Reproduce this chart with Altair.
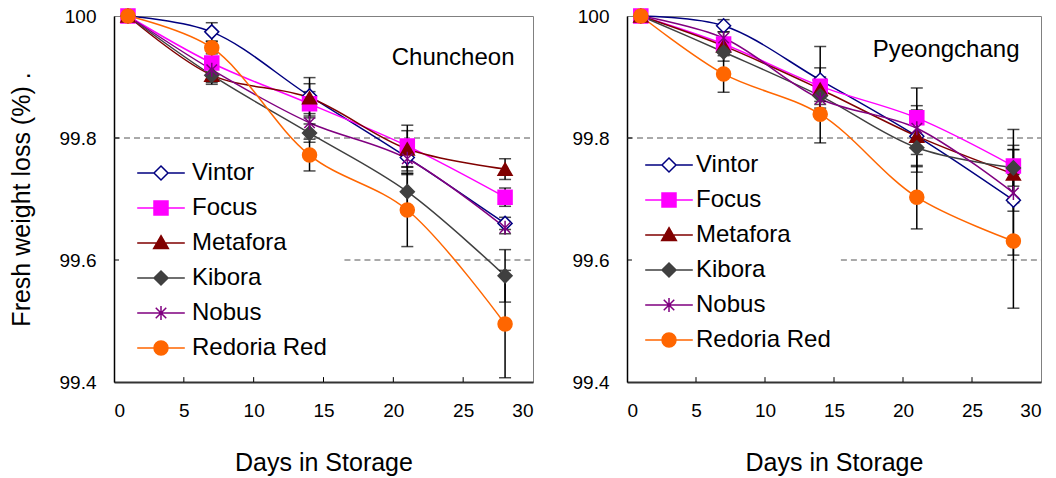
import altair as alt
import pandas as pd

FONT = "Liberation Sans"

days = [1, 7, 14, 21, 28]
varieties = ["Vintor", "Focus", "Metafora", "Kibora", "Nobus", "Redoria Red"]
line_colors = ["#000080", "#FF00FF", "#800000", "#404040", "#800080", "#FF6600"]
fill_colors = ["#FFFFFF", "#FF00FF", "#800000", "#404040", "#800080", "#FF6600"]
ASTERISK = "M0,-1L0,1M-0.75,-0.75L0.75,0.75M-0.75,0.75L0.75,-0.75"
shapes = ["diamond", "square", "triangle-up", "diamond", ASTERISK, "circle"]
# legend symbols: short line with the marker in its middle
SEG = "M-3.4,0L-1,0M1,0L3.4,0"
legend_shapes = [
    SEG + "M0,-1L1,0L0,1L-1,0Z",
    SEG + "M-1,-1L1,-1L1,1L-1,1Z",
    "M-3.4,0L-0.55,0M0.55,0L3.4,0M0,-1.05L1.05,0.8L-1.05,0.8Z",
    SEG + "M0,-1L1,0L0,1L-1,0Z",
    "M-3.4,0L3.4,0" + ASTERISK,
    SEG + "M1,0A1,1 0 1,1 -1,0A1,1 0 1,1 1,0Z",
]

# Chuncheon: mean and error
chun_vintor = [100, 99.974, 99.869, 99.768, 99.660]
chun_focus = [100, 99.923, 99.856, 99.787, 99.703]
chun_metafora = [100, 99.903, 99.866, 99.782, 99.749]
chun_kibora = [100, 99.903, 99.808, 99.712, 99.574]
chun_nobus = [100, 99.912, 99.825, 99.766, 99.653]
chun_redoria = [100, 99.948, 99.772, 99.682, 99.495]
chun_vintor_err = [0, 0.015, 0.020, 0.028, 0.010]
chun_focus_err = [0, 0.020, 0.020, 0.034, 0.015]
chun_metafora_err = [0, 0.015, 0.033, 0.030, 0.017]
chun_kibora_err = [0, 0.012, 0.015, 0.030, 0.043]
chun_nobus_err = [0, 0.010, 0.015, 0.020, 0.010]
chun_redoria_err = [0, 0.010, 0.026, 0.060, 0.088]

# Pyeongchang: mean and error
pyeong_vintor = [100, 99.984, 99.895, 99.803, 99.698]
pyeong_focus = [100, 99.954, 99.885, 99.833, 99.754]
pyeong_metafora = [100, 99.951, 99.880, 99.803, 99.741]
pyeong_kibora = [100, 99.941, 99.869, 99.784, 99.751]
pyeong_nobus = [100, 99.964, 99.864, 99.816, 99.710]
pyeong_redoria = [100, 99.905, 99.839, 99.703, 99.631]
pyeong_vintor_err = [0, 0.010, 0.055, 0.050, 0.090]
pyeong_focus_err = [0, 0.010, 0.030, 0.049, 0.060]
pyeong_metafora_err = [0, 0.010, 0.020, 0.030, 0.040]
pyeong_kibora_err = [0, 0.015, 0.020, 0.040, 0.030]
pyeong_nobus_err = [0, 0.010, 0.020, 0.030, 0.030]
pyeong_redoria_err = [0, 0.030, 0.047, 0.052, 0.110]

x_ticks = [0, 5, 10, 15, 20, 25, 30]
y_ticks = [99.4, 99.6, 99.8, 100]
ref_levels = [99.8, 99.6]
chun_ref_start = [0, 16.5]
pyeong_ref_start = [0, 15.5]


def long_frame(means, errs):
    rows = []
    for v, m, e in zip(varieties, means, errs):
        for d, mv, ev in zip(days, m, e):
            rows.append({"variety": v, "variety2": v, "day": d, "value": mv,
                         "err": ev, "lo": mv - ev, "hi": mv + ev})
    return pd.DataFrame(rows)


chun_df = long_frame(
    [chun_vintor, chun_focus, chun_metafora, chun_kibora, chun_nobus, chun_redoria],
    [chun_vintor_err, chun_focus_err, chun_metafora_err, chun_kibora_err,
     chun_nobus_err, chun_redoria_err])
pyeong_df = long_frame(
    [pyeong_vintor, pyeong_focus, pyeong_metafora, pyeong_kibora, pyeong_nobus, pyeong_redoria],
    [pyeong_vintor_err, pyeong_focus_err, pyeong_metafora_err, pyeong_kibora_err,
     pyeong_nobus_err, pyeong_redoria_err])

x_scale = alt.Scale(domain=[0, 30], nice=False)
y_scale = alt.Scale(domain=[99.4, 100], nice=False, zero=False)


def make_panel(df, title, dx, title_offset, ref_start, lx, ly, loff, width, show_ytitle):
    x_axis = alt.Axis(values=x_ticks, ticks=False, tickSize=0, grid=False,
                      labelPadding=19, labelFontSize=19, labelFont=FONT, labelColor="black",
                      title="Days in Storage", titleFontSize=25, titleFont=FONT,
                      titleFontWeight="normal", titleColor="black", titlePadding=30,
                      domainColor="#333333", domainWidth=2)
    y_axis = alt.Axis(values=y_ticks, format="~g", ticks=False, tickSize=0, grid=False,
                      labelPadding=18, labelFontSize=19, labelFont=FONT, labelColor="black",
                      title="Fresh weight loss (%)   ." if show_ytitle else None,
                      titleFontSize=25, titleFont=FONT, titleFontWeight="normal",
                      titleColor="black", titlePadding=25,
                      domainColor="black", domainWidth=1.5)
    x = alt.X("day:Q", scale=x_scale, axis=x_axis)
    y = alt.Y("value:Q", scale=y_scale, axis=y_axis)

    ref_df = pd.DataFrame({"level": ref_levels, "start": ref_start, "end": [30, 30]})
    refs = alt.Chart(ref_df).mark_rule(color="#555555", strokeWidth=1, strokeDash=[6, 4]).encode(
        x=alt.X("start:Q", scale=x_scale), x2="end:Q", y=alt.Y("level:Q", scale=y_scale))

    xt_df = pd.DataFrame({"t": x_ticks[1:-1], "y0": [99.4] * 5, "y1": [99.408] * 5})
    xticks = alt.Chart(xt_df).mark_rule(color="black", strokeWidth=1).encode(
        x=alt.X("t:Q", scale=x_scale), y=alt.Y("y0:Q", scale=y_scale), y2="y1:Q")
    yt_df = pd.DataFrame({"t": y_ticks[1:-1], "x0": [0, 0], "x1": [0.36, 0.36]})
    yticks = alt.Chart(yt_df).mark_rule(color="black", strokeWidth=1).encode(
        y=alt.Y("t:Q", scale=y_scale), x=alt.X("x0:Q", scale=x_scale), x2="x1:Q")

    legend = alt.Legend(orient="none", legendX=lx, legendY=ly, title=None,
                        symbolSize=196, symbolStrokeWidth=1.5, symbolOpacity=1,
                        labelFontSize=24, labelFont=FONT, labelColor="black",
                        labelOffset=loff, labelLimit=400, rowPadding=11, padding=0)

    base = alt.Chart(df)
    lines = base.mark_line(interpolate="catmull-rom", strokeWidth=1.5).encode(
        x=x, y=y,
        color=alt.Color("variety2:N", scale=alt.Scale(domain=varieties, range=line_colors),
                        legend=None))
    eb = base.transform_filter("datum.err > 0")
    bars = eb.mark_rule(color="black", strokeWidth=1.5).encode(
        x=alt.X("day:Q", scale=x_scale), y=alt.Y("lo:Q", scale=y_scale), y2="hi:Q")
    caps_lo = eb.mark_tick(color="black", orient="horizontal", size=12, thickness=1.5).encode(
        x=alt.X("day:Q", scale=x_scale), y=alt.Y("lo:Q", scale=y_scale))
    caps_hi = eb.mark_tick(color="black", orient="horizontal", size=12, thickness=1.5).encode(
        x=alt.X("day:Q", scale=x_scale), y=alt.Y("hi:Q", scale=y_scale))
    points = base.mark_point(size=196, strokeWidth=1.5, opacity=1, fillOpacity=1).encode(
        x=alt.X("day:Q", scale=x_scale), y=alt.Y("value:Q", scale=y_scale),
        shape=alt.Shape("variety2:N", scale=alt.Scale(domain=varieties, range=shapes),
                        legend=None),
        stroke=alt.Stroke("variety2:N", scale=alt.Scale(domain=varieties, range=line_colors),
                          legend=None),
        fill=alt.Fill("variety2:N", scale=alt.Scale(domain=varieties, range=fill_colors),
                      legend=None))
    # zero-size layer whose only visible part is the legend (line + marker symbols)
    key = base.mark_point(size=0, strokeWidth=1.5, opacity=1, fillOpacity=1).encode(
        x=alt.X("day:Q", scale=x_scale), y=alt.Y("value:Q", scale=y_scale),
        shape=alt.Shape("variety:N", scale=alt.Scale(domain=varieties, range=legend_shapes),
                        legend=legend),
        stroke=alt.Stroke("variety:N", scale=alt.Scale(domain=varieties, range=line_colors),
                          legend=legend),
        fill=alt.Fill("variety:N", scale=alt.Scale(domain=varieties, range=fill_colors),
                      legend=legend))

    return alt.layer(refs, xticks, yticks, lines, bars, caps_lo, caps_hi, points, key).resolve_scale(
        shape="independent", stroke="independent", fill="independent", color="independent"
    ).properties(
        width=width, height=366,
        title=alt.TitleParams(text=title, anchor="end", orient="top", offset=title_offset,
                              dx=dx, fontSize=24, font=FONT, fontWeight="normal",
                              color="black"))


left = make_panel(chun_df, "Chuncheon", -19, -64, chun_ref_start, 35, 145, 19, 419, True)
right = make_panel(pyeong_df, "Pyeongchang", -22, -56, pyeong_ref_start, 30, 137, 15, 414, False)

chart = alt.hconcat(left, right, spacing=37).resolve_scale(
    color="independent", shape="independent", stroke="independent", fill="independent"
).resolve_legend(
    color="independent", shape="independent", stroke="independent", fill="independent"
).configure(
    padding={"left": 8, "top": 5, "right": 5, "bottom": 5}, background="white"
).configure_view(stroke="#808080", strokeWidth=1)

chart.save("out.html", embed_options={"renderer": "svg", "actions": False})
